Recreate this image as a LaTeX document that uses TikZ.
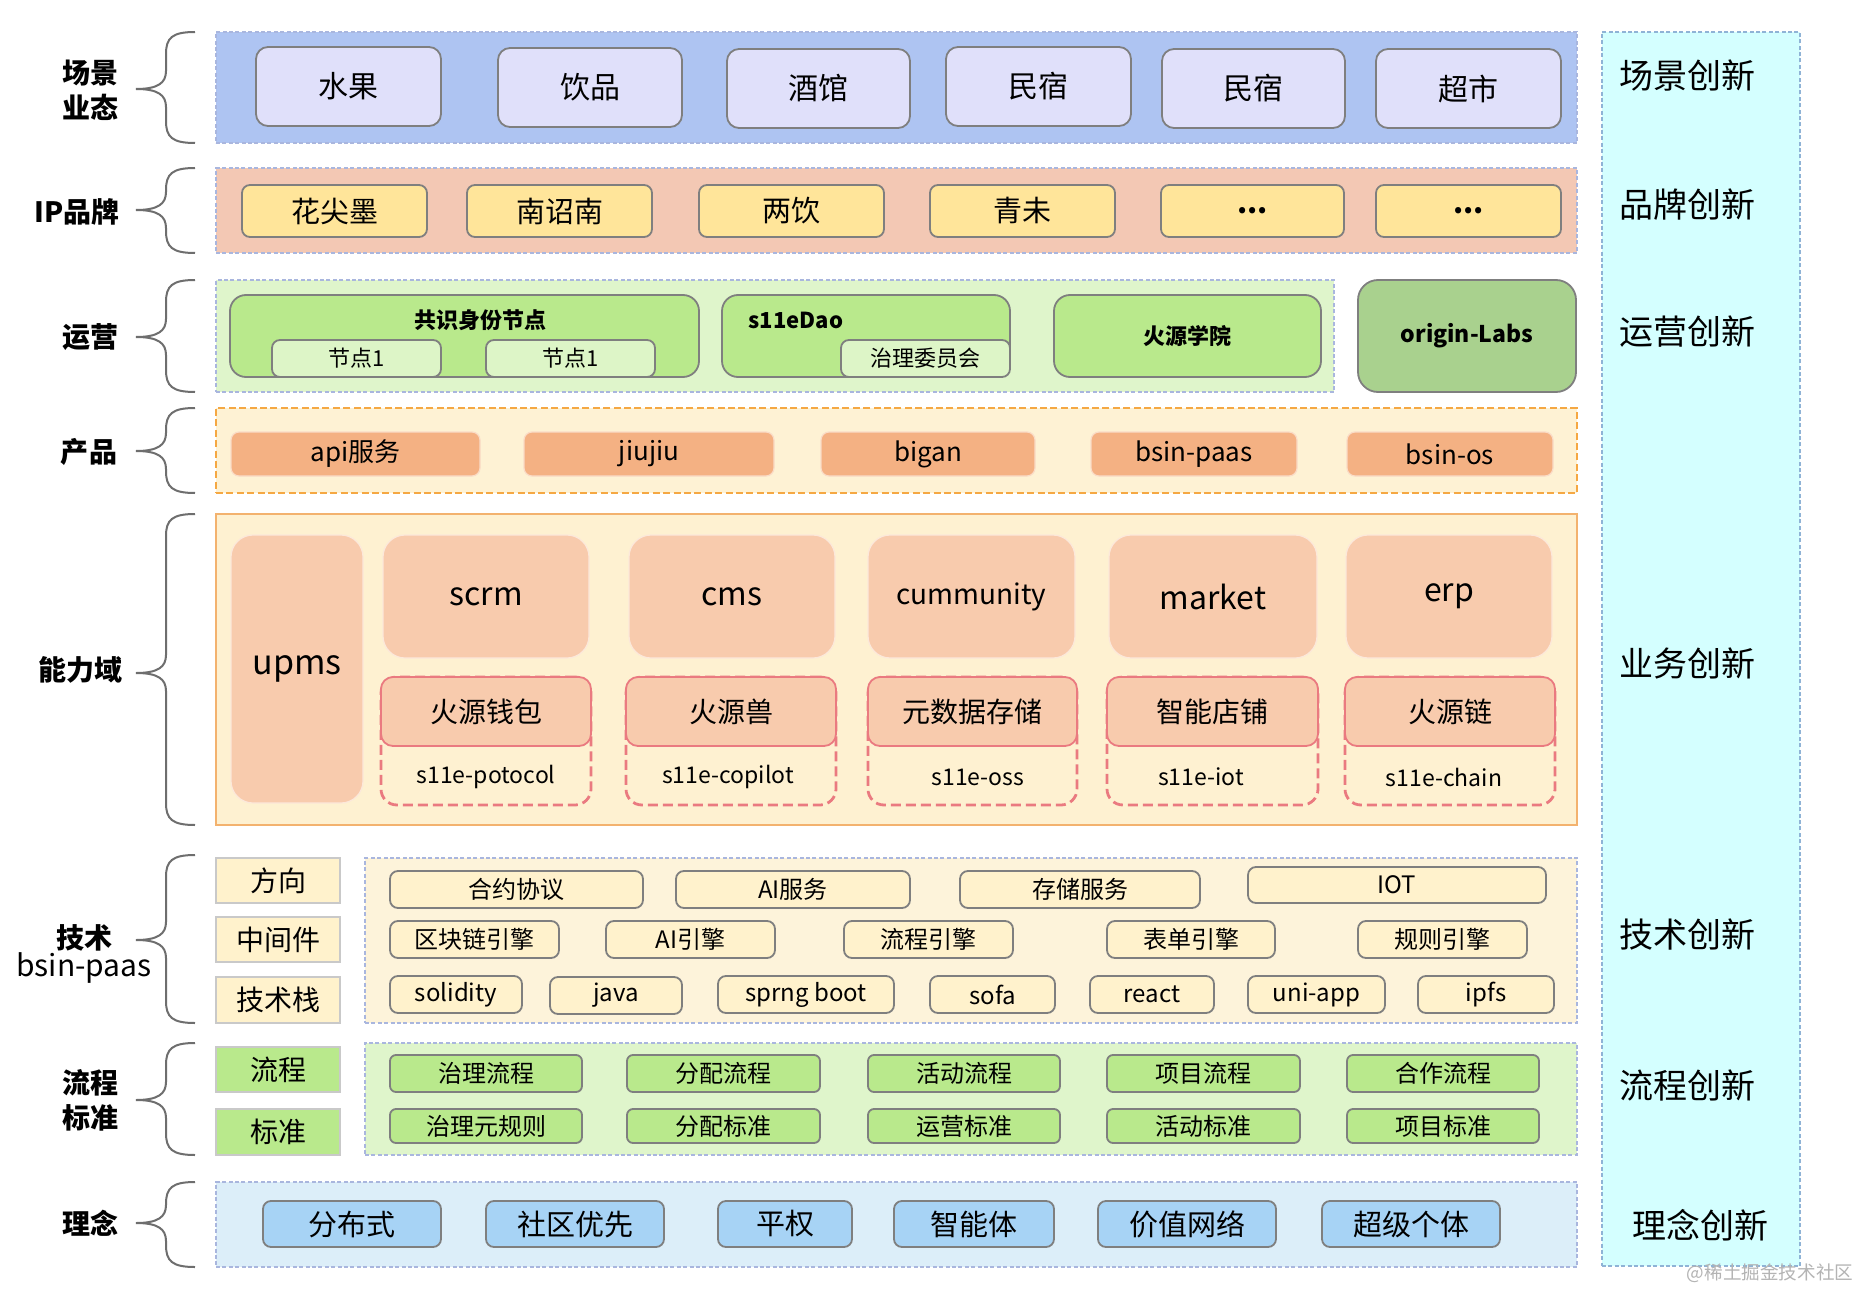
\documentclass[tikz,border=0pt]{standalone}
\usepackage{fontspec}
\setmainfont{Noto Sans CJK SC}
\definecolor{bandline}{HTML}{A9B6DE}
\definecolor{cyanline}{HTML}{8FB3D6}
\definecolor{c1band}{HTML}{AEC4F2}
\definecolor{c1box}{HTML}{E0E0FA}
\definecolor{c2band}{HTML}{F3C8B4}
\definecolor{c2box}{HTML}{FFE59A}
\definecolor{c3band}{HTML}{DFF5CB}
\definecolor{c3box}{HTML}{B9E98C}
\definecolor{c3sub}{HTML}{DDF5C7}
\definecolor{c3lab}{HTML}{A9D18E}
\definecolor{c4band}{HTML}{FEF2D4}
\definecolor{c4line}{HTML}{F5A843}
\definecolor{c4box}{HTML}{F4B183}
\definecolor{c5band}{HTML}{FEF1D1}
\definecolor{c5line}{HTML}{F3B26E}
\definecolor{c5box}{HTML}{F8CBAD}
\definecolor{pinkline}{HTML}{EA7A80}
\definecolor{c6band}{HTML}{FDF3DA}
\definecolor{c6box}{HTML}{FFF2CC}
\definecolor{c7band}{HTML}{DFF5CB}
\definecolor{c8band}{HTML}{DCEEF9}
\definecolor{c8box}{HTML}{A7D3F5}
\definecolor{cyanband}{HTML}{D4FFFF}
\definecolor{gline}{HTML}{7F7F7F}
\definecolor{lgline}{HTML}{C9C9C9}
\definecolor{bracecol}{HTML}{6E6E6E}
\definecolor{wmark}{HTML}{B4B4B4}
\newcommand\fsz[1]{\fontsize{#1}{#1}\selectfont}
\newcommand\bx[7]{%
  \pgfmathsetmacro\bxcx{(#3+#5)/2}%
  \pgfmathsetmacro\bxcy{(#4+#6)/2}%
  \pgfmathsetmacro\bxw{(#5-#3)/2}%
  \pgfmathsetmacro\bxh{(#6-#4)/2}%
  \node[#1,minimum width=\bxw pt,minimum height=\bxh pt] (#2) at (\bxcx,\bxcy) {#7};}
\newcommand\brc[3]{%
  \draw[bracestyle] (195,#1) .. controls (172,#1) and (166,#1+6) .. (166,#1+22)
    -- (166,#2-18) .. controls (166,#2-6) and (158,#2) .. (136,#2)
    .. controls (158,#2) and (166,#2+6) .. (166,#2+18)
    -- (166,#3-22) .. controls (166,#3-6) and (172,#3) .. (195,#3);}
\tikzset{
  base/.style={inner sep=0pt,outer sep=0pt,align=center,rectangle},
  band/.style={base,draw=bandline,dash pattern=on 2pt off 1.2pt,line width=0.7pt},
  bracestyle/.style={draw=bracecol,line width=1pt},
  lbl/.style={base,font=\bfseries\fontsize{14}{17.5}\selectfont},
  rlbl/.style={base,font=\fsz{17}},
  b1box/.style={base,draw=gline,fill=c1box,rounded corners=6pt,line width=0.9pt,font=\fsz{15}},
  b2box/.style={base,draw=gline,fill=c2box,rounded corners=4pt,line width=0.9pt,font=\fsz{14.5}},
  b3box/.style={base,draw=gline,fill=c3box,rounded corners=8pt,line width=0.9pt,font=\bfseries\fsz{11}},
  b3sub/.style={base,draw=gline,fill=c3sub,rounded corners=4pt,line width=0.9pt,font=\fsz{11}},
  b4box/.style={base,draw=white!55!c4box,fill=c4box,rounded corners=4pt,line width=0.6pt,font=\fsz{13}},
  b5box/.style={base,draw=white!55!c5box,fill=c5box,rounded corners=11pt,line width=0.6pt,font=\fsz{16}},
  pinkdash/.style={base,draw=pinkline,dash pattern=on 5pt off 2.5pt,line width=1.4pt,rounded corners=8pt},
  pinkbox/.style={base,draw=pinkline,fill=c5box,rounded corners=6pt,line width=0.9pt,font=\fsz{14}},
  s11e/.style={base,font=\fsz{11.5}},
  sidebox/.style={base,draw=lgline,line width=1pt,font=\fsz{14}},
  b6box/.style={base,draw=gline,fill=c6box,rounded corners=4pt,line width=0.9pt,font=\fsz{12}},
  b7box/.style={base,draw=gline,fill=c3box,rounded corners=3pt,line width=0.9pt,font=\fsz{12}},
  b8box/.style={base,draw=gline,fill=c8box,rounded corners=4pt,line width=0.9pt,font=\fsz{14.5}},
}
\begin{document}
\begin{tikzpicture}[x=0.5pt,y=-0.5pt]
\useasboundingbox (0,0) rectangle (1857,1289);
\fill[white] (0,0) rectangle (1857,1289);

% right column
\bx{base,draw=cyanline,dash pattern=on 2pt off 1.2pt,line width=0.7pt,fill=cyanband}{rcol}{1602}{32}{1800}{1266}{}
\node[rlbl] (r1) at (1687,76) {场景创新};
\node[rlbl] (r2) at (1687,205) {品牌创新};
\node[rlbl] (r3) at (1687,332) {运营创新};
\node[rlbl] (r4) at (1687,663) {业务创新};
\node[rlbl] (r5) at (1687,935) {技术创新};
\node[rlbl] (r6) at (1687,1085) {流程创新};
\node[rlbl] (r7) at (1700,1225) {理念创新};

% left labels and braces
\node[lbl] (l1) at (90,90) {场景\\业态};
\node[lbl] (l2) at (77,212) {IP品牌};
\node[lbl] (l3) at (90,337) {运营};
\node[lbl] (l4) at (89,452) {产品};
\node[lbl] (l5) at (81,670) {能力域};
\node[base,font=\fontsize{15}{14}\selectfont] (l6) at (84,954) {{\bfseries\fontsize{14}{14}\selectfont 技术}\\bsin-paas};
\node[lbl] (l7) at (90,1100) {流程\\标准};
\node[lbl] (l8) at (90,1223) {理念};
\brc{32}{89}{143}
\brc{168}{210}{253}
\brc{280}{337}{392}
\brc{408}{451}{493}
\brc{514}{673}{825}
\brc{855}{940}{1023}
\brc{1043}{1100}{1155}
\brc{1182}{1223}{1267}

% band 1
\bx{band,fill=c1band}{band1}{216}{32}{1577}{143}{}
\bx{b1box}{s1}{256}{47}{441}{126}{水果}
\bx{b1box}{s2}{498}{48}{682}{127}{饮品}
\bx{b1box}{s3}{727}{49}{910}{128}{酒馆}
\bx{b1box}{s4}{946}{47}{1131}{126}{民宿}
\bx{b1box}{s5}{1162}{49}{1345}{128}{民宿}
\bx{b1box}{s6}{1376}{49}{1561}{128}{超市}

% band 2
\bx{band,fill=c2band}{band2}{216}{168}{1577}{253}{}
\bx{b2box}{p1}{242}{185}{427}{237}{花尖墨}
\bx{b2box}{p2}{467}{185}{652}{237}{南诏南}
\bx{b2box}{p3}{699}{185}{884}{237}{两饮}
\bx{b2box}{p4}{930}{185}{1115}{237}{青未}
\bx{b2box}{p5}{1161}{185}{1344}{237}{\raisebox{-3pt}{\bfseries ...}}
\bx{b2box}{p6}{1376}{185}{1561}{237}{\raisebox{-3pt}{\bfseries ...}}

% band 3
\bx{band,fill=c3band}{band3}{216}{280}{1334}{392}{}
\bx{b3box}{o1}{230}{295}{699}{377}{}
\node[base,font=\bfseries\fsz{11}] (o1t) at (480,320) {共识身份节点};
\bx{b3sub}{o1a}{272}{340}{441}{377}{节点1}
\bx{b3sub}{o1b}{486}{340}{655}{377}{节点1}
\bx{b3box}{o2}{722}{295}{1010}{377}{}
\node[base,font=\bfseries\fsz{11}] (o2t) at (796,320) {s11eDao};
\bx{b3sub}{o2a}{841}{340}{1010}{377}{治理委员会}
\bx{b3box}{o3}{1054}{295}{1321}{377}{火源学院}
\bx{b3box,fill=c3lab,rounded corners=10pt,font=\bfseries\fsz{11.5}}{o4}{1358}{280}{1576}{392}{origin-Labs}

% band 4
\bx{base,fill=c4band,draw=c4line,dash pattern=on 3.5pt off 1.7pt,line width=1pt}{band4}{216}{408}{1577}{493}{}
\bx{b4box}{q1}{231}{432}{480}{476}{api服务}
\bx{b4box}{q2}{524}{432}{774}{476}{jiujiu}
\bx{b4box}{q3}{821}{432}{1035}{476}{bigan}
\bx{b4box}{q4}{1091}{432}{1297}{476}{bsin-paas}
\bx{b4box}{q5}{1347}{432}{1553}{476}{bsin-os}

% band 5
\bx{base,fill=c5band,draw=c5line,line width=1pt}{band5}{216}{514}{1577}{825}{}
\bx{b5box,font=\fsz{17}}{upms}{231}{535}{363}{803}{upms}
\bx{b5box}{m1}{383}{535}{589}{658}{scrm}
\bx{b5box}{m2}{629}{535}{835}{658}{cms}
\bx{b5box,font=\fsz{14}}{m3}{868}{535}{1075}{658}{cummunity}
\bx{b5box}{m4}{1109}{535}{1317}{658}{market}
\bx{b5box}{m5}{1346}{535}{1552}{658}{erp}
\bx{pinkdash}{d1}{381}{677}{591}{805}{}
\bx{pinkdash}{d2}{626}{677}{836}{805}{}
\bx{pinkdash}{d3}{868}{677}{1077}{805}{}
\bx{pinkdash}{d4}{1107}{677}{1318}{805}{}
\bx{pinkdash}{d5}{1345}{677}{1555}{805}{}
\bx{pinkbox}{k1}{381}{677}{591}{746}{火源钱包}
\bx{pinkbox}{k2}{626}{677}{836}{746}{火源兽}
\bx{pinkbox}{k3}{868}{677}{1077}{746}{元数据存储}
\bx{pinkbox}{k4}{1107}{677}{1318}{746}{智能店铺}
\bx{pinkbox}{k5}{1345}{677}{1555}{746}{火源链}
\node[s11e] (t1) at (486,777) {s11e-potocol};
\node[s11e] (t2) at (728,777) {s11e-copilot};
\node[s11e] (t3) at (978,777) {s11e-oss};
\node[s11e] (t4) at (1201,777) {s11e-iot};
\node[s11e] (t5) at (1444,777) {s11e-chain};

% band 6
\bx{sidebox,fill=c6box}{x1}{216}{858}{340}{903}{方向}
\bx{sidebox,fill=c6box}{x2}{216}{917}{340}{962}{中间件}
\bx{sidebox,fill=c6box}{x3}{216}{977}{340}{1023}{技术栈}
\bx{band,fill=c6band}{band6}{365}{858}{1577}{1023}{}
\bx{b6box}{a1}{390}{871}{643}{908}{合约协议}
\bx{b6box}{a2}{676}{871}{910}{908}{AI服务}
\bx{b6box}{a3}{960}{871}{1200}{908}{存储服务}
\bx{b6box}{a4}{1248}{867}{1546}{903}{IOT}
\bx{b6box}{e1}{390}{921}{559}{958}{区块链引擎}
\bx{b6box}{e2}{606}{921}{775}{958}{AI引擎}
\bx{b6box}{e3}{844}{921}{1013}{958}{流程引擎}
\bx{b6box}{e4}{1107}{921}{1275}{958}{表单引擎}
\bx{b6box}{e5}{1358}{921}{1527}{958}{规则引擎}
\bx{b6box}{f1}{390}{976}{522}{1013}{solidity}
\bx{b6box}{f2}{550}{977}{682}{1014}{java}
\bx{b6box}{f3}{718}{976}{894}{1013}{sprng boot}
\bx{b6box}{f4}{930}{976}{1055}{1013}{sofa}
\bx{b6box}{f5}{1090}{976}{1214}{1013}{react}
\bx{b6box}{f6}{1248}{976}{1385}{1013}{uni-app}
\bx{b6box}{f7}{1418}{976}{1554}{1013}{ipfs}

% band 7
\bx{sidebox,fill=c3box}{y1}{216}{1047}{340}{1092}{流程}
\bx{sidebox,fill=c3box}{y2}{216}{1109}{340}{1155}{标准}
\bx{band,fill=c7band}{band7}{365}{1043}{1577}{1155}{}
\bx{b7box}{g1}{390}{1055}{582}{1092}{治理流程}
\bx{b7box}{g2}{627}{1055}{820}{1092}{分配流程}
\bx{b7box}{g3}{868}{1055}{1060}{1092}{活动流程}
\bx{b7box}{g4}{1107}{1055}{1300}{1092}{项目流程}
\bx{b7box}{g5}{1347}{1055}{1539}{1092}{合作流程}
\bx{b7box}{h1}{390}{1109}{582}{1143}{治理元规则}
\bx{b7box}{h2}{627}{1109}{820}{1143}{分配标准}
\bx{b7box}{h3}{868}{1109}{1060}{1143}{运营标准}
\bx{b7box}{h4}{1107}{1109}{1300}{1143}{活动标准}
\bx{b7box}{h5}{1347}{1109}{1539}{1143}{项目标准}

% band 8
\bx{band,fill=c8band}{band8}{216}{1182}{1577}{1267}{}
\bx{b8box}{i1}{263}{1201}{441}{1247}{分布式}
\bx{b8box}{i2}{486}{1201}{664}{1247}{社区优先}
\bx{b8box}{i3}{718}{1201}{852}{1247}{平权}
\bx{b8box}{i4}{894}{1201}{1054}{1247}{智能体}
\bx{b8box}{i5}{1098}{1201}{1276}{1247}{价值网络}
\bx{b8box}{i6}{1322}{1201}{1500}{1247}{超级个体}

% watermark
\node[base,font=\fsz{9.3},text=wmark] (wm) at (1770,1273) {@稀土掘金技术社区};
\end{tikzpicture}
\end{document}
